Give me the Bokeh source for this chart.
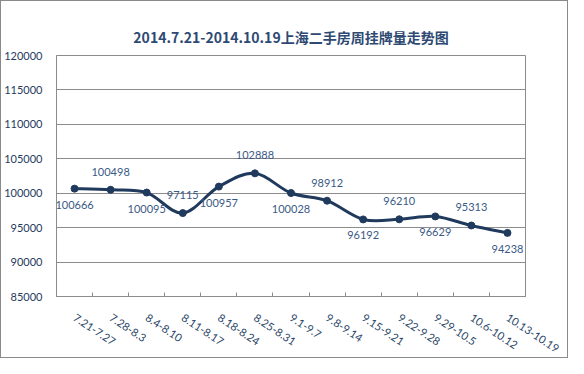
from bokeh.plotting import figure
from bokeh.models import ColumnDataSource, FixedTicker, Range1d, BasicTickFormatter
from bokeh.core.properties import value
from bokeh.embed import file_html
from bokeh.resources import INLINE

weeks = ["7.21-7.27", "7.28-8.3", "8.4-8.10", "8.11-8.17", "8.18-8.24", "8.25-8.31",
         "9.1-9.7", "9.8-9.14", "9.15-9.21", "9.22-9.28", "9.29-10.5", "10.6-10.12", "10.13-10.19"]
listings = [100666, 100498, 100095, 97115, 100957, 102888,
            100028, 98912, 96192, 96210, 96629, 95313, 94238]
y_ticks = [85000, 90000, 95000, 100000, 105000, 110000, 115000, 120000]
title_text = "2014.7.21-2014.10.19上海二手房周挂牌量走势图"

n = len(weeks)
xs = [i + 0.5 for i in range(n)]

LINE = "#1F3A5C"
GRID = "#8C8C8C"
LBL = "#3B5A86"

p = figure(width=568, height=358, output_backend="svg", toolbar_location=None,
           x_range=Range1d(0, n), y_range=Range1d(y_ticks[0], y_ticks[-1]),
           min_border_left=46, min_border_right=44, min_border_top=54, min_border_bottom=57)
p.styles = {"border": "1px solid #8a8a8a", "box-sizing": "border-box"}

p.title.text = title_text
p.title.align = "center"
p.title.text_font = "Noto Sans CJK SC"
p.title.text_font_size = "14px"
p.title.text_font_style = "bold"
p.title.text_color = "#2E4A73"
p.title.offset = 18
p.title.standoff = 18

p.outline_line_color = GRID
p.outline_line_width = 1
p.background_fill_color = "white"
p.border_fill_color = "white"

# smooth line through the points (Catmull-Rom style Bezier segments)
pts_x = [xs[0]] + xs + [xs[-1]]
pts_y = [listings[0]] + listings + [listings[-1]]
seg = dict(x0=[], y0=[], x1=[], y1=[], cx0=[], cy0=[], cx1=[], cy1=[])
for i in range(1, n):
    xa, ya = pts_x[i], pts_y[i]
    xb, yb = pts_x[i + 1], pts_y[i + 1]
    xp, yp = pts_x[i - 1], pts_y[i - 1]
    xn, yn = pts_x[i + 2], pts_y[i + 2]
    seg["x0"].append(xa); seg["y0"].append(ya)
    seg["x1"].append(xb); seg["y1"].append(yb)
    seg["cx0"].append(xa + (xb - xp) / 6); seg["cy0"].append(ya + (yb - yp) / 6)
    seg["cx1"].append(xb - (xn - xa) / 6); seg["cy1"].append(yb - (yn - ya) / 6)
p.bezier(source=ColumnDataSource(seg), x0="x0", y0="y0", x1="x1", y1="y1",
         cx0="cx0", cy0="cy0", cx1="cx1", cy1="cy1", line_color=LINE, line_width=3)

src = ColumnDataSource(dict(x=xs, y=listings, lab=[str(v) for v in listings],
                            dy=[16 if i % 2 == 0 else -18 for i in range(n)]))
p.scatter("x", "y", source=src, size=7, fill_color=LINE, line_color=LINE)
p.text("x", "y", text="lab", source=src, y_offset="dy", text_align="center",
       text_baseline="middle", text_font=value("Lato"), text_font_size="11px", text_color=LBL)

p.xgrid.grid_line_color = None
p.ygrid.grid_line_color = GRID
p.ygrid.grid_line_width = 1

p.yaxis.ticker = FixedTicker(ticks=y_ticks)
p.yaxis.formatter = BasicTickFormatter(use_scientific=False)
p.yaxis.major_tick_line_color = None
p.yaxis.minor_tick_line_color = None
p.yaxis.axis_line_color = GRID
p.yaxis.major_label_text_font = "Lato"
p.yaxis.major_label_text_font_size = "11px"
p.yaxis.major_label_text_color = "#1F3A5C"
p.yaxis.major_label_standoff = 8

p.xaxis.ticker = FixedTicker(ticks=xs, minor_ticks=list(range(n + 1)))
p.xaxis.major_label_overrides = {x: w for x, w in zip(xs, weeks)}
p.xaxis.major_tick_line_color = None
p.xaxis.minor_tick_line_color = GRID
p.xaxis.minor_tick_in = 4
p.xaxis.minor_tick_out = 0
p.xaxis.axis_line_color = GRID
p.xaxis.major_label_orientation = -0.58
p.xaxis.major_label_text_font = "Lato"
p.xaxis.major_label_text_font_size = "11px"
p.xaxis.major_label_text_color = "#2A4668"
p.xaxis.major_label_standoff = 14

open("out.html", "w").write(file_html(p, INLINE))
